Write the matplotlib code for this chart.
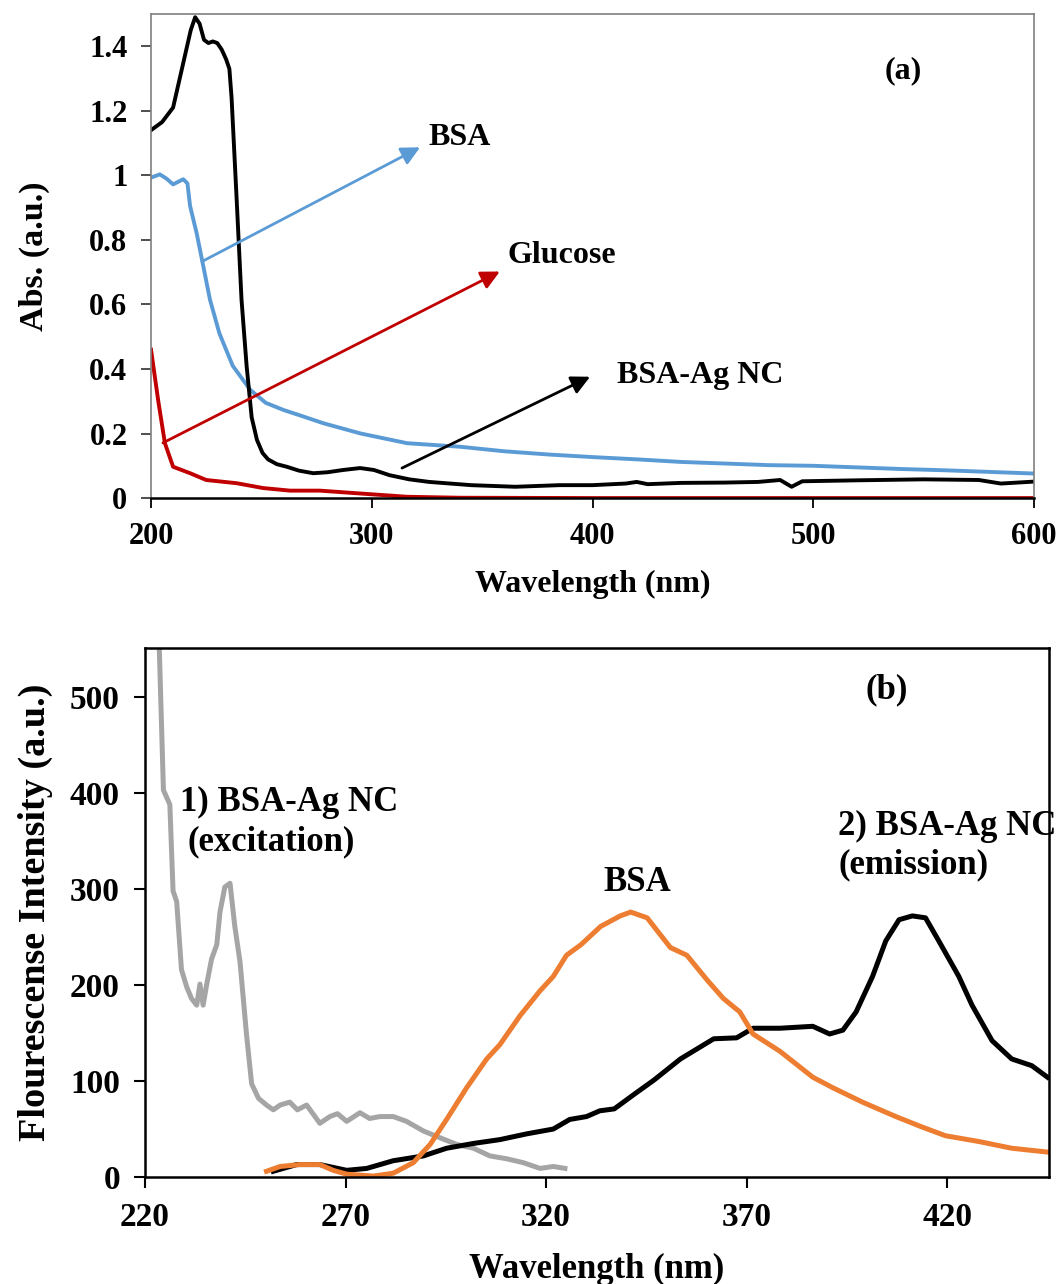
import matplotlib
matplotlib.use('Agg')
import matplotlib.pyplot as plt

# ---- panel (a): absorbance ----
WL_BSA = [200, 204, 207, 210, 214.6, 216.5, 217.7, 220.7, 223.7, 226.7, 231, 237, 245, 252, 260, 268, 278, 295, 316, 340,
          360, 380, 400, 420, 440, 460, 480, 500, 520, 540, 560, 580, 600]
ABS_BSA = [0.993, 1.003, 0.99, 0.972, 0.988, 0.975, 0.905, 0.82, 0.718, 0.615, 0.51, 0.41, 0.335, 0.295, 0.273, 0.255, 0.232, 0.2, 0.17, 0.159,
           0.145, 0.135, 0.127, 0.12, 0.112, 0.107, 0.102, 0.1, 0.095, 0.09, 0.086, 0.081, 0.076]

WL_GLU = [200, 203.3, 206.3, 210, 217.7, 225, 238.8, 250.8, 263, 276.5, 293, 316, 340, 400, 500, 600]
ABS_GLU = [0.46, 0.30, 0.17, 0.097, 0.077, 0.056, 0.046, 0.031, 0.023, 0.023, 0.015, 0.004, 0.001, 0.0, 0.0, 0.0]

WL_NC = [200, 205, 210, 215, 218, 220, 222, 224, 226, 228, 230, 232, 234, 235.5, 236.5, 238.8, 241, 243.3, 245.6, 248,
         250.5, 253, 257, 261.5, 267, 273.5, 280, 287, 294.7, 301, 308, 317, 326, 345, 365, 385, 400, 415, 420, 425,
         440, 460, 475, 485, 490.2, 495, 520, 550, 575, 585, 600]
ABS_NC = [1.14, 1.165, 1.21, 1.36, 1.45, 1.49, 1.47, 1.42, 1.41, 1.415, 1.41, 1.39, 1.36, 1.33, 1.24, 0.925, 0.615, 0.41,
          0.25, 0.18, 0.14, 0.12, 0.105, 0.097, 0.085, 0.077, 0.08, 0.087, 0.093, 0.087, 0.071, 0.058, 0.05, 0.04, 0.035,
          0.04, 0.04, 0.045, 0.05, 0.043, 0.047, 0.048, 0.05, 0.056, 0.035, 0.052, 0.055, 0.058, 0.056, 0.045, 0.051]

# ---- panel (b): fluorescence ----
WL_EXC = [223.5, 224.6, 226.2, 227, 227.9, 229.1, 230.4, 231.6, 232.9, 233.7, 234.5, 235.4, 236.6, 237.9, 238.7,
          239.9, 241.2, 242.4, 243.7, 245.3, 246.6, 248.3, 250.3, 252, 253.7, 256.1, 258, 260.3, 263.6, 266.1,
          268, 270.3, 273.6, 276, 278.6, 281.9, 285.2, 289.4, 293.5, 297.7, 301.9, 306, 310.2, 314.3, 318.5,
          321.8, 324.7]
INT_EXC = [560, 403, 388, 298, 287, 216, 198, 186, 179, 201, 179, 201, 227, 242, 276,
           302, 306, 261, 224, 149, 97, 82, 75, 70, 75, 78, 70, 75, 56, 63,
           66, 58, 67, 61, 63, 63, 58, 48, 41, 34, 30, 22, 19, 15, 9,
           11, 9]

WL_BSA_EM = [250.3, 253.7, 258.6, 263.6, 266.9, 270.3, 276.9, 281.9, 286.9, 291.1, 295.2, 300.2, 305.2, 308.5,
             313.5, 318.5, 321.8, 325.1, 328.7, 333.6, 338.5, 341.1, 345.2, 351, 355.1, 360.2, 364.2, 368.3,
             371.6, 378.3, 386.5, 391.5, 398.9, 407.2, 413.8, 419.6, 427.9, 436.1, 445]
INT_BSA_EM = [6, 11, 13, 13, 7, 3, 1, 4, 15, 34, 60, 93, 123, 138,
              168, 194, 209, 231, 242, 261, 272, 276, 270, 239, 231, 205, 186, 172,
              149, 131, 104, 93, 78, 63, 52, 43, 37, 30, 26]

WL_NC_EM = [252, 257.8, 263.6, 270.3, 275.3, 281.9, 289.4, 295.2, 301.9, 308.5, 315.2, 321.8, 325.9, 330.1,
            333.4, 337, 341.9, 346.9, 353.5, 361.8, 367.5, 371.6, 378.3, 386.5, 390.7, 394, 397.3, 401.4,
            404.7, 408, 411.3, 414.6, 417.9, 422.9, 426.2, 431.2, 436.1, 441.1, 445]
INT_NC_EM = [6, 13, 13, 7, 9, 17, 22, 30, 35, 39, 45, 50, 60, 63,
             69, 71, 86, 101, 123, 144, 145, 155, 155, 157, 149, 153, 172, 209,
             246, 268, 272, 270, 246, 209, 179, 142, 123, 116, 104]

A_YTICKS = [0, 0.2, 0.4, 0.6, 0.8, 1, 1.2, 1.4]
A_YLABELS = ['0', '0.2', '0.4', '0.6', '0.8', '1', '1.2', '1.4']
A_XTICKS = [200, 300, 400, 500, 600]
B_YTICKS = [0, 100, 200, 300, 400, 500]
B_XTICKS = [220, 270, 320, 370, 420]

BLUE = '#5B9BD5'
RED = '#C00000'
GREY = '#A5A5A5'
ORANGE = '#ED7D31'

plt.rcParams['font.family'] = ['Liberation Serif', 'DejaVu Serif']
plt.rcParams['font.weight'] = 'bold'

fig = plt.figure(figsize=(10.59, 12.84), dpi=100)

# panel (a)
ax1 = fig.add_axes([0.1426, 0.6121, 0.8338, 0.3770])
ax1.plot(WL_BSA, ABS_BSA, color=BLUE, lw=2.8)
ax1.plot(WL_GLU, ABS_GLU, color=RED, lw=2.8)
ax1.plot(WL_NC, ABS_NC, color='black', lw=2.8)
ax1.set_xlim(200, 600)
ax1.set_ylim(0, 1.5)
ax1.set_yticks(A_YTICKS)
ax1.set_yticklabels(A_YLABELS)
ax1.set_xticks(A_XTICKS)
ax1.set_xlabel('Wavelength (nm)', fontsize=23, fontweight='bold', labelpad=14)
ax1.set_ylabel('Abs. (a.u.)', fontsize=24.5, fontweight='bold', labelpad=28)
for s in ['top', 'right', 'left']:
    ax1.spines[s].set_color('#7f7f7f')
    ax1.spines[s].set_linewidth(1.2)
ax1.spines['bottom'].set_linewidth(1.8)
ax1.tick_params(axis='both', direction='out', length=7, width=1.3, labelsize=22, pad=10)
ax1.tick_params(axis='y', color='#404040')

arrow_kw = dict(arrowstyle='-|>', lw=2, mutation_scale=28, shrinkA=0, shrinkB=0)
ax1.annotate('', xy=(321.9, 1.087), xytext=(223.1, 0.733), arrowprops=dict(color=BLUE, **arrow_kw))
ax1.annotate('', xy=(358, 0.702), xytext=(205.4, 0.171), arrowprops=dict(color=RED, **arrow_kw))
ax1.annotate('', xy=(398.9, 0.376), xytext=(313.7, 0.093), arrowprops=dict(color='black', **arrow_kw))
ax1.text(325.5, 1.118, 'BSA', fontsize=23, fontweight='bold', va='center')
ax1.text(361.7, 0.752, 'Glucose', fontsize=23, fontweight='bold', va='center')
ax1.text(411, 0.379, 'BSA-Ag NC', fontsize=23, fontweight='bold', va='center')
ax1.text(540.7, 1.323, '(a)', fontsize=23, fontweight='bold', va='center', ha='center')

# panel (b)
ax2 = fig.add_axes([0.1369, 0.0833, 0.8537, 0.4120])
ax2.plot(WL_EXC, INT_EXC, color=GREY, lw=3.6)
ax2.plot(WL_NC_EM, INT_NC_EM, color='black', lw=3.6)
ax2.plot(WL_BSA_EM, INT_BSA_EM, color=ORANGE, lw=3.6)
ax2.set_xlim(220, 445.4)
ax2.set_ylim(0, 551)
ax2.set_xticks(B_XTICKS)
ax2.set_yticks(B_YTICKS)
ax2.set_xlabel('Wavelength (nm)', fontsize=25, fontweight='bold', labelpad=14)
ax2.set_ylabel('Flourescense Intensity (a.u.)', fontsize=27.5, fontweight='bold', labelpad=12)
for s in ax2.spines.values():
    s.set_linewidth(1.8)
ax2.tick_params(axis='both', direction='out', length=8, width=1.5, labelsize=24, pad=10)

ax2.text(405, 507, '(b)', fontsize=25, fontweight='bold', va='center', ha='center')
ax2.text(228.7, 390, '1) BSA-Ag NC', fontsize=25, fontweight='bold', va='center')
ax2.text(230.7, 349, '(excitation)', fontsize=25, fontweight='bold', va='center')
ax2.text(342.8, 307, 'BSA', fontsize=25, fontweight='bold', va='center', ha='center')
ax2.text(392.8, 365, '2) BSA-Ag NC', fontsize=25, fontweight='bold', va='center')
ax2.text(392.8, 325, '(emission)', fontsize=25, fontweight='bold', va='center')

fig.savefig('out.png', dpi=100)
